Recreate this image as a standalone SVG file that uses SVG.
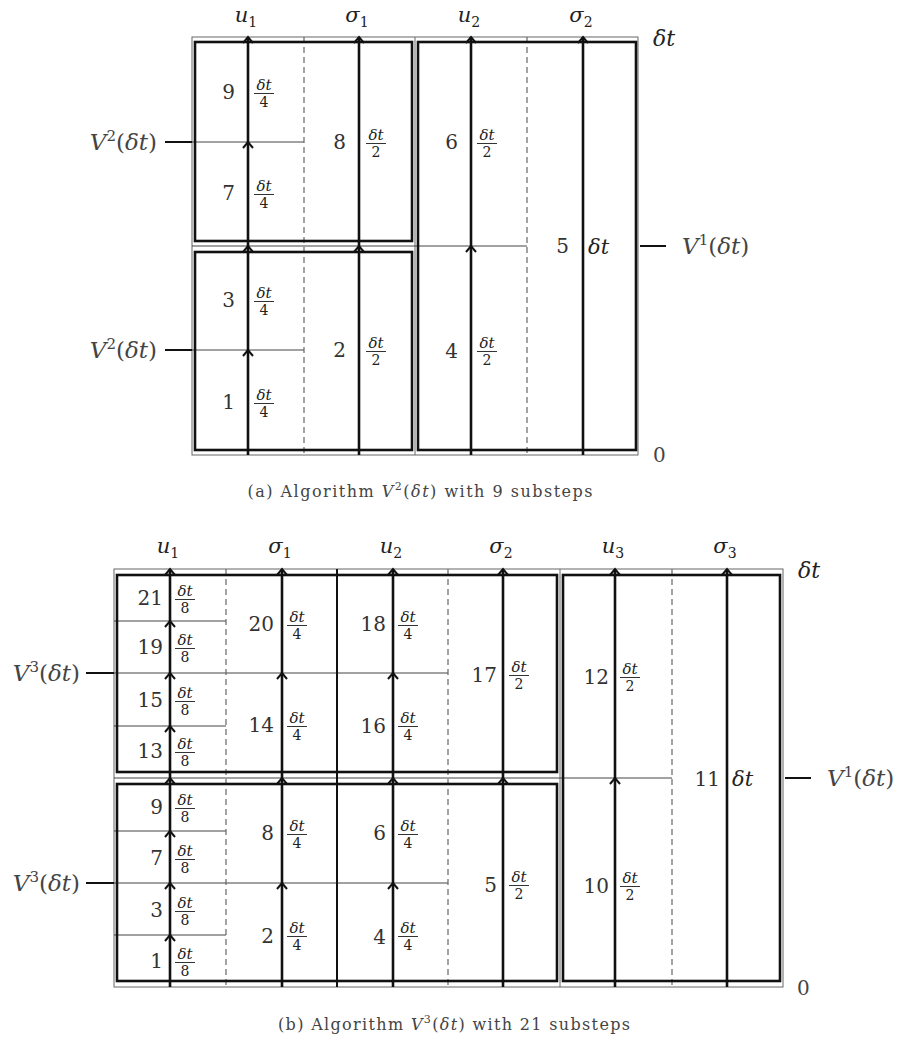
<svg xmlns="http://www.w3.org/2000/svg" width="898" height="1041" viewBox="0 0 898 1041">
<style>
.bg{fill:#fff}
.thin{stroke:#666;stroke-width:1;fill:none}
.thk{stroke:#111;stroke-width:2.6;fill:none}
.arr{stroke:#111;stroke-width:2.6}
.sol{stroke:#111;stroke-width:2}
.dash{stroke:#666;stroke-width:1.2;stroke-dasharray:6 4}
.hl{stroke:#444;stroke-width:1}
.lbl{stroke:#111;stroke-width:2}
.hd{fill:none;stroke:#111;stroke-width:2}
.bar{stroke:#333;stroke-width:1}
text{font-family:"DejaVu Serif","Liberation Serif","Noto Serif",serif}
.na{font-size:20px;fill:#333;text-anchor:end}
.nb{font-size:20px;fill:#333;text-anchor:end}
.fn{font-size:15px;font-style:italic;fill:#222;text-anchor:middle}
.fd{font-size:14px;fill:#222;text-anchor:middle}
.big{font-size:21px;font-style:italic;fill:#222}
.hdr{font-size:21px;font-style:italic;fill:#222;text-anchor:middle}
.sub{font-size:14px;font-style:normal}
.lab{font-size:23px;fill:#444}
.it{font-style:italic}
.sup{font-size:15px}
.zero{font-size:20px;fill:#444}
.cap{font-size:16px;fill:#444;text-anchor:middle}
</style>
<defs>
<path id="h" class="hd" d="M-5,6 L0,0 L5,6"/>
</defs>
<rect class="bg" x="0" y="0" width="898" height="1041"/>

<!-- ============ (a) ============ -->
<g id="a-frame">
<rect class="thin" x="192" y="37" width="446" height="418"/>
<line class="thin" x1="415" y1="37" x2="415" y2="455"/>
<line class="hl" x1="192" y1="246" x2="527" y2="246"/>
<line class="hl" x1="192" y1="142" x2="304" y2="142"/>
<line class="hl" x1="192" y1="350" x2="304" y2="350"/>
<line class="dash" x1="304" y1="37" x2="304" y2="455"/>
<line class="dash" x1="527" y1="37" x2="527" y2="455"/>
<rect class="thk" x="195" y="42" width="217" height="199"/>
<rect class="thk" x="195" y="252" width="217" height="198"/>
<rect class="thk" x="418" y="42" width="218" height="408"/>
</g>
<g id="a-connectors">
<line class="arr" x1="248" y1="455" x2="248" y2="37"/>
<line class="arr" x1="359" y1="455" x2="359" y2="37"/>
<line class="arr" x1="471" y1="455" x2="471" y2="37"/>
<line class="arr" x1="583" y1="455" x2="583" y2="37"/>
<use href="#h" x="248" y="37"/><use href="#h" x="248" y="142"/><use href="#h" x="248" y="246"/><use href="#h" x="248" y="350"/>
<use href="#h" x="359" y="37"/><use href="#h" x="359" y="246"/>
<use href="#h" x="471" y="37"/><use href="#h" x="471" y="246"/>
<use href="#h" x="583" y="37"/>
<line class="lbl" x1="165" y1="142" x2="192" y2="142"/>
<line class="lbl" x1="165" y1="350" x2="192" y2="350"/>
<line class="lbl" x1="640" y1="246" x2="666" y2="246"/>
</g>
<g id="a-headers">
<text class="hdr" x="246" y="22">u<tspan class="sub" dy="5">1</tspan></text>
<text class="hdr" x="357" y="22">σ<tspan class="sub" dy="5">1</tspan></text>
<text class="hdr" x="469" y="22">u<tspan class="sub" dy="5">2</tspan></text>
<text class="hdr" x="581" y="22">σ<tspan class="sub" dy="5">2</tspan></text>
<text class="big" x="653" y="46" style="font-size:22px">δt</text>
<text class="zero" x="653" y="462">0</text>
<text class="lab" x="157" y="150" text-anchor="end"><tspan class="it">V</tspan><tspan class="sup" dy="-9">2</tspan><tspan dy="9">(</tspan><tspan class="it">δt</tspan>)</text>
<text class="lab" x="157" y="358" text-anchor="end"><tspan class="it">V</tspan><tspan class="sup" dy="-9">2</tspan><tspan dy="9">(</tspan><tspan class="it">δt</tspan>)</text>
<text class="lab" x="682" y="254"><tspan class="it">V</tspan><tspan class="sup" dy="-9">1</tspan><tspan dy="9">(</tspan><tspan class="it">δt</tspan>)</text>
</g>
<g id="a-s9"><text class="na" x="235" y="99">9</text><text class="fn" x="264" y="90">δt</text><line class="bar" x1="254" y1="93.5" x2="274" y2="93.5"/><text class="fd" x="264" y="107">4</text></g>
<g id="a-s7"><text class="na" x="235" y="200">7</text><text class="fn" x="264" y="191">δt</text><line class="bar" x1="254" y1="194.5" x2="274" y2="194.5"/><text class="fd" x="264" y="208">4</text></g>
<g id="a-s8"><text class="na" x="346" y="149">8</text><text class="fn" x="376" y="140">δt</text><line class="bar" x1="366" y1="143.5" x2="386" y2="143.5"/><text class="fd" x="376" y="157">2</text></g>
<g id="a-s3"><text class="na" x="235" y="307">3</text><text class="fn" x="264" y="298">δt</text><line class="bar" x1="254" y1="301.5" x2="274" y2="301.5"/><text class="fd" x="264" y="315">4</text></g>
<g id="a-s1"><text class="na" x="235" y="409">1</text><text class="fn" x="264" y="400">δt</text><line class="bar" x1="254" y1="403.5" x2="274" y2="403.5"/><text class="fd" x="264" y="417">4</text></g>
<g id="a-s2"><text class="na" x="346" y="357">2</text><text class="fn" x="376" y="348">δt</text><line class="bar" x1="366" y1="351.5" x2="386" y2="351.5"/><text class="fd" x="376" y="365">2</text></g>
<g id="a-s6"><text class="na" x="458" y="149">6</text><text class="fn" x="487" y="140">δt</text><line class="bar" x1="477" y1="143.5" x2="497" y2="143.5"/><text class="fd" x="487" y="157">2</text></g>
<g id="a-s4"><text class="na" x="458" y="358">4</text><text class="fn" x="487" y="348">δt</text><line class="bar" x1="477" y1="351.5" x2="497" y2="351.5"/><text class="fd" x="487" y="365">2</text></g>
<g id="a-s5"><text class="na" x="569" y="253">5</text><text class="big" x="588" y="254">δt</text></g>
<text id="cap-a" class="cap" x="420" y="497" textLength="345" lengthAdjust="spacing">(a) Algorithm <tspan class="it">V</tspan><tspan font-size="11" dy="-7">2</tspan><tspan dy="7">(</tspan><tspan class="it">δt</tspan>) with 9 substeps</text>

<!-- ============ (b) ============ -->
<g id="b-frame">
<rect class="thin" x="114" y="569" width="669" height="418"/>
<line class="thin" x1="560" y1="569" x2="560" y2="987"/>
<line class="hl" x1="114" y1="778" x2="672" y2="778"/>
<line class="hl" x1="114" y1="673" x2="448" y2="673"/>
<line class="hl" x1="114" y1="883" x2="448" y2="883"/>
<line class="hl" x1="114" y1="621" x2="226" y2="621"/>
<line class="hl" x1="114" y1="726" x2="226" y2="726"/>
<line class="hl" x1="114" y1="831" x2="226" y2="831"/>
<line class="hl" x1="114" y1="935" x2="226" y2="935"/>
<line class="dash" x1="226" y1="569" x2="226" y2="987"/>
<line class="dash" x1="448" y1="569" x2="448" y2="987"/>
<line class="dash" x1="672" y1="569" x2="672" y2="987"/>
<line class="sol" x1="337" y1="569" x2="337" y2="987"/>
<rect class="thk" x="117" y="575" width="440" height="197"/>
<rect class="thk" x="117" y="784" width="440" height="197"/>
<rect class="thk" x="563" y="575" width="217" height="406"/>
</g>
<g id="b-connectors">
<line class="arr" x1="170" y1="987" x2="170" y2="569"/>
<line class="arr" x1="282" y1="987" x2="282" y2="569"/>
<line class="arr" x1="393" y1="987" x2="393" y2="569"/>
<line class="arr" x1="503" y1="987" x2="503" y2="569"/>
<line class="arr" x1="615" y1="987" x2="615" y2="569"/>
<line class="arr" x1="727" y1="987" x2="727" y2="569"/>
<use href="#h" x="170" y="569"/><use href="#h" x="170" y="621"/><use href="#h" x="170" y="673"/><use href="#h" x="170" y="726"/>
<use href="#h" x="170" y="778"/><use href="#h" x="170" y="831"/><use href="#h" x="170" y="883"/><use href="#h" x="170" y="935"/>
<use href="#h" x="282" y="569"/><use href="#h" x="282" y="673"/><use href="#h" x="282" y="778"/><use href="#h" x="282" y="883"/>
<use href="#h" x="393" y="569"/><use href="#h" x="393" y="673"/><use href="#h" x="393" y="778"/><use href="#h" x="393" y="883"/>
<use href="#h" x="503" y="569"/><use href="#h" x="503" y="778"/>
<use href="#h" x="615" y="569"/><use href="#h" x="615" y="778"/>
<use href="#h" x="727" y="569"/>
<line class="lbl" x1="86" y1="673" x2="114" y2="673"/>
<line class="lbl" x1="86" y1="883" x2="114" y2="883"/>
<line class="lbl" x1="785" y1="778" x2="811" y2="778"/>
</g>
<g id="b-headers">
<text class="hdr" x="168" y="553">u<tspan class="sub" dy="5">1</tspan></text>
<text class="hdr" x="280" y="553">σ<tspan class="sub" dy="5">1</tspan></text>
<text class="hdr" x="391" y="553">u<tspan class="sub" dy="5">2</tspan></text>
<text class="hdr" x="501" y="553">σ<tspan class="sub" dy="5">2</tspan></text>
<text class="hdr" x="613" y="553">u<tspan class="sub" dy="5">3</tspan></text>
<text class="hdr" x="725" y="553">σ<tspan class="sub" dy="5">3</tspan></text>
<text class="big" x="798" y="578" style="font-size:22px">δt</text>
<text class="zero" x="797" y="995">0</text>
<text class="lab" x="80" y="681" text-anchor="end"><tspan class="it">V</tspan><tspan class="sup" dy="-9">3</tspan><tspan dy="9">(</tspan><tspan class="it">δt</tspan>)</text>
<text class="lab" x="80" y="891" text-anchor="end"><tspan class="it">V</tspan><tspan class="sup" dy="-9">3</tspan><tspan dy="9">(</tspan><tspan class="it">δt</tspan>)</text>
<text class="lab" x="827" y="786"><tspan class="it">V</tspan><tspan class="sup" dy="-9">1</tspan><tspan dy="9">(</tspan><tspan class="it">δt</tspan>)</text>
</g>
<g id="b-s21"><text class="nb" x="163" y="605">21</text><text class="fn" x="185" y="596">δt</text><line class="bar" x1="175" y1="599.5" x2="195" y2="599.5"/><text class="fd" x="185" y="613">8</text></g>
<g id="b-s19"><text class="nb" x="163" y="654">19</text><text class="fn" x="185" y="645">δt</text><line class="bar" x1="175" y1="648.5" x2="195" y2="648.5"/><text class="fd" x="185" y="662">8</text></g>
<g id="b-s15"><text class="nb" x="163" y="707">15</text><text class="fn" x="185" y="698">δt</text><line class="bar" x1="175" y1="701.5" x2="195" y2="701.5"/><text class="fd" x="185" y="715">8</text></g>
<g id="b-s13"><text class="nb" x="163" y="758">13</text><text class="fn" x="185" y="749">δt</text><line class="bar" x1="175" y1="752.5" x2="195" y2="752.5"/><text class="fd" x="185" y="766">8</text></g>
<g id="b-s20"><text class="nb" x="274" y="631">20</text><text class="fn" x="297" y="622">δt</text><line class="bar" x1="287" y1="625.5" x2="307" y2="625.5"/><text class="fd" x="297" y="639">4</text></g>
<g id="b-s14"><text class="nb" x="274" y="732">14</text><text class="fn" x="297" y="723">δt</text><line class="bar" x1="287" y1="726.5" x2="307" y2="726.5"/><text class="fd" x="297" y="740">4</text></g>
<g id="b-s18"><text class="nb" x="386" y="631">18</text><text class="fn" x="408" y="622">δt</text><line class="bar" x1="398" y1="625.5" x2="418" y2="625.5"/><text class="fd" x="408" y="639">4</text></g>
<g id="b-s16"><text class="nb" x="386" y="733">16</text><text class="fn" x="408" y="723">δt</text><line class="bar" x1="398" y1="726.5" x2="418" y2="726.5"/><text class="fd" x="408" y="740">4</text></g>
<g id="b-s17"><text class="nb" x="497" y="682">17</text><text class="fn" x="519" y="672">δt</text><line class="bar" x1="509" y1="675.5" x2="529" y2="675.5"/><text class="fd" x="519" y="689">2</text></g>
<g id="b-s12"><text class="nb" x="609" y="684">12</text><text class="fn" x="630" y="674">δt</text><line class="bar" x1="620" y1="677.5" x2="640" y2="677.5"/><text class="fd" x="630" y="691">2</text></g>
<g id="b-s11"><text class="nb" x="720" y="786">11</text><text class="big" x="732" y="786">δt</text></g>
<g id="b-s10"><text class="nb" x="609" y="893">10</text><text class="fn" x="630" y="883">δt</text><line class="bar" x1="620" y1="886.5" x2="640" y2="886.5"/><text class="fd" x="630" y="900">2</text></g>
<g id="b-s9"><text class="nb" x="163" y="814">9</text><text class="fn" x="185" y="805">δt</text><line class="bar" x1="175" y1="808.5" x2="195" y2="808.5"/><text class="fd" x="185" y="822">8</text></g>
<g id="b-s7"><text class="nb" x="163" y="865">7</text><text class="fn" x="185" y="856">δt</text><line class="bar" x1="175" y1="859.5" x2="195" y2="859.5"/><text class="fd" x="185" y="873">8</text></g>
<g id="b-s3"><text class="nb" x="163" y="917">3</text><text class="fn" x="185" y="908">δt</text><line class="bar" x1="175" y1="911.5" x2="195" y2="911.5"/><text class="fd" x="185" y="925">8</text></g>
<g id="b-s1"><text class="nb" x="163" y="968">1</text><text class="fn" x="185" y="959">δt</text><line class="bar" x1="175" y1="962.5" x2="195" y2="962.5"/><text class="fd" x="185" y="976">8</text></g>
<g id="b-s8"><text class="nb" x="274" y="840">8</text><text class="fn" x="297" y="831">δt</text><line class="bar" x1="287" y1="834.5" x2="307" y2="834.5"/><text class="fd" x="297" y="848">4</text></g>
<g id="b-s2"><text class="nb" x="274" y="943">2</text><text class="fn" x="297" y="933">δt</text><line class="bar" x1="287" y1="936.5" x2="307" y2="936.5"/><text class="fd" x="297" y="950">4</text></g>
<g id="b-s6"><text class="nb" x="386" y="840">6</text><text class="fn" x="408" y="831">δt</text><line class="bar" x1="398" y1="834.5" x2="418" y2="834.5"/><text class="fd" x="408" y="848">4</text></g>
<g id="b-s4"><text class="nb" x="386" y="944">4</text><text class="fn" x="408" y="933">δt</text><line class="bar" x1="398" y1="936.5" x2="418" y2="936.5"/><text class="fd" x="408" y="950">4</text></g>
<g id="b-s5"><text class="nb" x="497" y="892">5</text><text class="fn" x="519" y="882">δt</text><line class="bar" x1="509" y1="885.5" x2="529" y2="885.5"/><text class="fd" x="519" y="899">2</text></g>
<text id="cap-b" class="cap" x="454" y="1030" textLength="352" lengthAdjust="spacing">(b) Algorithm <tspan class="it">V</tspan><tspan font-size="11" dy="-7">3</tspan><tspan dy="7">(</tspan><tspan class="it">δt</tspan>) with 21 substeps</text>
</svg>
